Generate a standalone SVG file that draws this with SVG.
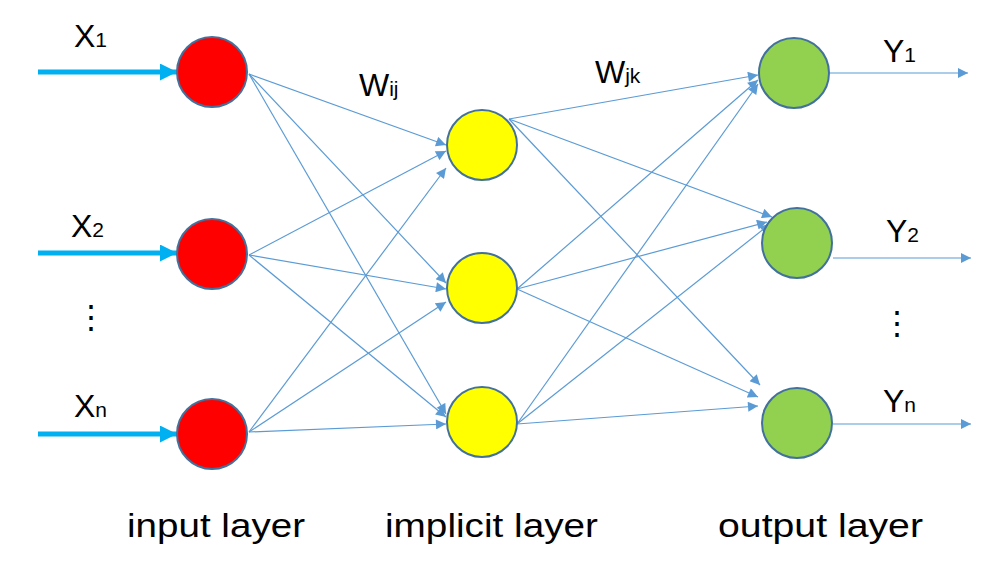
<svg xmlns="http://www.w3.org/2000/svg" width="988" height="572" viewBox="0 0 988 572">
<style>
.in{fill:#FF0000;stroke:#41719C;stroke-width:2}
.hid{fill:#FFFF00;stroke:#41719C;stroke-width:2}
.out{fill:#92D050;stroke:#41719C;stroke-width:2}
.e{stroke:#5B9BD5;stroke-width:1.2;fill:none;marker-end:url(#a)}
.x{stroke:#00B0F0;stroke-width:5;fill:none;marker-end:url(#b)}
text{font-family:"Liberation Sans",Arial,sans-serif;fill:#000}
.l{font-size:32px}
.s{font-size:21px}
.b{font-size:33px}
</style>
<defs>
<marker id="a" viewBox="0 0 10 10" refX="10" refY="5" markerWidth="11" markerHeight="10" markerUnits="userSpaceOnUse" orient="auto"><path d="M0,0L10,5L0,10z" fill="#5B9BD5"/></marker>
<marker id="b" viewBox="0 0 10 10" refX="10" refY="5" markerWidth="18" markerHeight="17" markerUnits="userSpaceOnUse" orient="auto"><path d="M0,0L10,5L0,10z" fill="#00B0F0"/></marker>
</defs>
<g id="connectors">
<line class="x" x1="38" y1="72" x2="177" y2="72"/>
<line class="x" x1="38" y1="253" x2="177" y2="253"/>
<line class="x" x1="38" y1="434" x2="177" y2="434"/>
<line class="e" x1="249" y1="74" x2="446" y2="145"/>
<line class="e" x1="249" y1="74" x2="446" y2="283"/>
<line class="e" x1="249" y1="74" x2="446" y2="414"/>
<line class="e" x1="249" y1="255" x2="446" y2="151"/>
<line class="e" x1="249" y1="255" x2="446" y2="289"/>
<line class="e" x1="249" y1="255" x2="446" y2="417"/>
<line class="e" x1="249" y1="432" x2="446" y2="168"/>
<line class="e" x1="249" y1="432" x2="446" y2="302"/>
<line class="e" x1="249" y1="432" x2="446" y2="424"/>
<line class="e" x1="509" y1="119" x2="758" y2="75"/>
<line class="e" x1="509" y1="119" x2="772" y2="217"/>
<line class="e" x1="509" y1="119" x2="760" y2="385"/>
<line class="e" x1="517" y1="289" x2="758" y2="80"/>
<line class="e" x1="517" y1="289" x2="767" y2="222"/>
<line class="e" x1="517" y1="289" x2="758" y2="397"/>
<line class="e" x1="517" y1="424" x2="758" y2="84"/>
<line class="e" x1="517" y1="424" x2="770" y2="224"/>
<line class="e" x1="517" y1="424" x2="758" y2="406"/>
<line class="e" x1="830" y1="73" x2="968" y2="73"/>
<line class="e" x1="833" y1="258" x2="971" y2="258"/>
<line class="e" x1="833" y1="424" x2="971" y2="424"/>
</g>
<g id="input1"><circle class="in" cx="212" cy="72" r="35"/></g>
<g id="input2"><circle class="in" cx="212" cy="254" r="35"/></g>
<g id="input3"><circle class="in" cx="212" cy="434" r="35"/></g>
<g id="hidden1"><circle class="hid" cx="482" cy="145" r="35"/></g>
<g id="hidden2"><circle class="hid" cx="482" cy="288" r="35"/></g>
<g id="hidden3"><circle class="hid" cx="482" cy="422" r="35"/></g>
<g id="output1"><circle class="out" cx="794" cy="73" r="35"/></g>
<g id="output2"><circle class="out" cx="797" cy="243" r="35"/></g>
<g id="output3"><circle class="out" cx="797" cy="423" r="35"/></g>
<g id="labels">
<text class="l" x="74" y="47">X<tspan class="s">1</tspan></text>
<text class="l" x="71" y="237">X<tspan class="s">2</tspan></text>
<text class="l" x="75" y="328">⋮</text>
<text class="l" x="74" y="417">X<tspan class="s">n</tspan></text>
<text class="l" x="359" y="96">W<tspan class="s">ij</tspan></text>
<text class="l" x="595" y="83">W<tspan class="s">jk</tspan></text>
<text class="l" x="883" y="62">Y<tspan class="s">1</tspan></text>
<text class="l" x="886" y="242">Y<tspan class="s">2</tspan></text>
<text class="l" x="881" y="334">⋮</text>
<text class="l" x="883" y="412">Y<tspan class="s">n</tspan></text>
<text class="b" x="127" y="537" textLength="178" lengthAdjust="spacingAndGlyphs">input layer</text>
<text class="b" x="385" y="537" textLength="213" lengthAdjust="spacingAndGlyphs">implicit layer</text>
<text class="b" x="718" y="537" textLength="205" lengthAdjust="spacingAndGlyphs">output layer</text>
</g>
</svg>
